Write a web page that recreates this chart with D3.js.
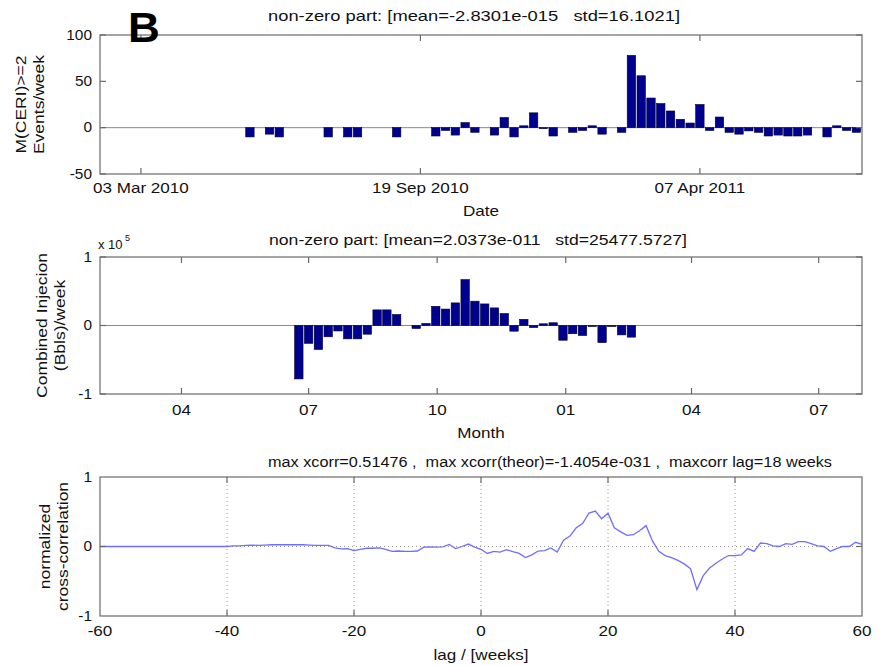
<!DOCTYPE html>
<html><head><meta charset="utf-8">
<script src="https://cdn.jsdelivr.net/npm/d3@7"></script>
<style>
html,body{margin:0;padding:0;background:#fff;}
svg text{font-family:"Liberation Sans",Arial,Helvetica,sans-serif;fill:#111;white-space:pre;}
</style></head>
<body>
<svg id="chart" width="888" height="666"></svg>
<script>
// ---------------- DATA ----------------
const topStart = "2010-05-20"; // first weekly bin of M(CERI)>=2 events
const topValues = [-10,0,-7,-10,0,0,0,0,-10,0,-10,-10,0,0,0,-10,0,0,0,-9,
  -3,-8,5.5,-5,0,-8,11,-10,2,16,-1,-9,0,-5,-3,2,-7,0,-5,78,
  56,32,26,18,9,5,25,-3,11.5,-5,-7,-3.5,-5,-9,-8,-9,-9,-8,0,-10,
  2,-3,-5];
const topTickDates = ["2010-03-03","2010-09-19","2011-04-07"];
const topYTicks = [-50,0,50,100];

const midStart = "2010-06-24"; // first weekly bin of combined injection
const midValues = [-78000,-26000,-35000,-16500,-8000,-19500,-19500,-12700,22800,22800,
  16000,0,-4400,3000,28000,24000,33000,67000,35500,31500,
  25700,17500,-8300,9000,-3000,2500,4000,-21500,-12000,-14600,
  -1500,-25000,-1000,-13700,-17000];
const midTickDates = ["2010-04-01","2010-07-01","2010-10-01","2011-01-01","2011-04-01","2011-07-01"];
const midYTicks = [-1,0,1]; // x 10^5

const lagStart = -60;
const xcorrValues = [
  0,0,0,0,0,0,0,0,0,0,0,0,0,0,0,0,0,0,0,0,0,           // -60..-40
  0.01,0.01,0.015,0.02,0.015,0.02,0.025,0.025,0.025,0.025, // -39..-30
  0.025,0.025,0.02,0.015,0.015,0.015,-0.02,-0.035,-0.03,-0.06, // -29..-20
  -0.04,-0.025,-0.025,-0.02,-0.04,-0.07,-0.065,-0.07,-0.07,-0.065, // -19..-10
  -0.01,-0.005,-0.01,-0.005,0.03,-0.03,0.0,0.035,-0.01,      // -9..-1
  -0.04,                                                    // 0
  -0.1,-0.07,-0.08,-0.045,-0.075,-0.1,-0.16,-0.12,-0.065,-0.06, // 1..10
  -0.02,-0.08,0.09,0.15,0.27,0.33,0.48,0.51,0.40,0.48,       // 11..20
  0.27,0.21,0.16,0.17,0.23,0.30,0.08,-0.07,-0.13,-0.16,      // 21..30
  -0.2,-0.25,-0.32,-0.62,-0.42,-0.31,-0.24,-0.18,-0.13,-0.13, // 31..40
  -0.12,-0.03,-0.07,0.05,0.04,0.01,0.0,0.04,0.03,0.07,       // 41..50
  0.07,0.04,0.01,0.0,-0.07,-0.03,0.0,0.0,0.06,0.03           // 51..60
];
const lagTicks = [-60,-40,-20,0,20,40,60];
const lagGrid = [-40,-20,0,20,40];
const xcorrYTicks = [-1,0,1];

const titles = [
  "non-zero part: [mean=-2.8301e-015   std=16.1021]",
  "non-zero part: [mean=2.0373e-011   std=25477.5727]",
  "max xcorr=0.51476 ,  max xcorr(theor)=-1.4054e-031 ,  maxcorr lag=18 weeks"
];

// ---------------- LAYOUT ----------------
const svg = d3.select("#chart");
const L = 100, R = 862;
const panels = [{t:35,b:174},{t:257,b:394},{t:477,b:616}];
const titleLayout = [{x:268,y:16,w:412},{x:269,y:240,w:418},{x:268,y:462,w:564}];
const BOX = "#6a6a6a", ZERO = "#8a8a8a", BAR = "#00008f";
const SX = 1.22; // horizontal text stretch of the original
const TFS = 14;

function txt(x, y, s, opt={}) {
  const g = svg.append("g").attr("transform", `translate(${x},${y})` + (opt.rot ? ` rotate(${opt.rot})` : "") + ` scale(${opt.sx||SX},1)`);
  const t = g.append("text").attr("text-anchor", opt.anchor||"middle")
    .attr("dominant-baseline","central")
    .style("font-size", (opt.fs||TFS)+"px");
  if (opt.weight) t.style("font-weight", opt.weight);
  t.text(s);
  return t;
}
function title(i) {
  const c = titleLayout[i];
  svg.append("text").attr("x", c.x).attr("y", c.y).attr("dominant-baseline","central")
    .attr("textLength", c.w).attr("lengthAdjust","spacingAndGlyphs")
    .style("font-size", TFS+"px").text(titles[i]);
}

const parse = d3.timeParse("%Y-%m-%d");
const xTime = d3.scaleTime()
  .domain([new Date(2010,1,1,17), new Date(2011,7,1,0)])
  .range([L, R]);
const weekPx = xTime(new Date(2010,5,8)) - xTime(new Date(2010,5,1));
const barW = weekPx * 0.86;

function box(p) {
  svg.append("rect").attr("x", L).attr("y", p.t).attr("width", R-L).attr("height", p.b-p.t)
    .attr("fill","none").attr("stroke", BOX).attr("stroke-width",1.2);
}
function xTicksInward(scale, vals, p) {
  vals.forEach(v => {
    const x = scale(v);
    svg.append("line").attr("x1",x).attr("x2",x).attr("y1",p.b).attr("y2",p.b-6).attr("stroke",BOX).attr("stroke-width",1.2);
    svg.append("line").attr("x1",x).attr("x2",x).attr("y1",p.t).attr("y2",p.t+6).attr("stroke",BOX).attr("stroke-width",1.2);
  });
}
function yTicksInward(scale, vals) {
  vals.forEach(v => {
    const y = scale(v);
    svg.append("line").attr("x1",L).attr("x2",L+6).attr("y1",y).attr("y2",y).attr("stroke",BOX).attr("stroke-width",1.2);
    svg.append("line").attr("x1",R).attr("x2",R-6).attr("y1",y).attr("y2",y).attr("stroke",BOX).attr("stroke-width",1.2);
  });
}

// ---------------- PANEL 1 ----------------
{
  const p = panels[0];
  const y = d3.scaleLinear().domain([-50,100]).range([p.b, p.t]);
  const s0 = parse(topStart);
  const data = topValues.map((v,i) => ({d: d3.timeDay.offset(s0, 7*i), v}));
  svg.append("line").attr("x1",L).attr("x2",R).attr("y1",y(0)).attr("y2",y(0)).attr("stroke",ZERO).attr("stroke-width",1);
  svg.append("g").selectAll("rect").data(data.filter(d=>d.v!==0)).join("rect")
    .attr("x", d => xTime(d.d) - barW/2).attr("width", barW)
    .attr("y", d => y(Math.max(0,d.v))).attr("height", d => Math.max(1, Math.abs(y(d.v)-y(0))))
    .attr("fill", BAR).attr("stroke","#000030").attr("stroke-width",0.6);
  box(p);
  const tdates = topTickDates.map(parse);
  xTicksInward(xTime, tdates, p);
  yTicksInward(y, topYTicks);
  const fmt = d3.timeFormat("%d %b %Y");
  tdates.forEach(d => txt(xTime(d), p.b+14, fmt(d)));
  topYTicks.forEach(v => txt(L-8, y(v), String(v), {anchor:"end", sx:1.1}));
  title(0);
  txt((L+R)/2, 211, "Date");
  txt(21, (p.t+p.b)/2, "M(CERI)>=2", {rot:-90, sx:1.25});
  txt(39, (p.t+p.b)/2, "Events/week", {rot:-90, sx:1.25});
  txt(128, 27, "B", {anchor:"start", fs:42, weight:"bold", sx:1.05}).style("fill","#000");
}

// ---------------- PANEL 2 ----------------
{
  const p = panels[1];
  const y = d3.scaleLinear().domain([-1e5,1e5]).range([p.b, p.t]);
  const s0 = parse(midStart);
  const data = midValues.map((v,i) => ({d: d3.timeDay.offset(s0, 7*i), v}));
  svg.append("line").attr("x1",L).attr("x2",R).attr("y1",y(0)).attr("y2",y(0)).attr("stroke",ZERO).attr("stroke-width",1);
  svg.append("g").selectAll("rect").data(data.filter(d=>d.v!==0)).join("rect")
    .attr("x", d => xTime(d.d) - barW/2).attr("width", barW)
    .attr("y", d => y(Math.max(0,d.v))).attr("height", d => Math.max(1, Math.abs(y(d.v)-y(0))))
    .attr("fill", BAR).attr("stroke","#000030").attr("stroke-width",0.6);
  box(p);
  const tdates = midTickDates.map(parse);
  xTicksInward(xTime, tdates, p);
  yTicksInward(y, midYTicks.map(v=>v*1e5));
  const fmt = d3.timeFormat("%m");
  tdates.forEach(d => txt(xTime(d), p.b+16, fmt(d)));
  midYTicks.forEach(v => txt(L-8, y(v*1e5), String(v), {anchor:"end", sx:1.1}));
  title(1);
  txt((L+R)/2, 433, "Month");
  txt(98, 244, "x 10", {anchor:"start", fs:13, sx:1.0});
  txt(125, 238, "5", {anchor:"start", fs:9, sx:1.0});
  txt(42, (p.t+p.b)/2, "Combined Injecion", {rot:-90, sx:1.25});
  txt(60, (p.t+p.b)/2, "(Bbls)/week", {rot:-90, sx:1.25});
}

// ---------------- PANEL 3 ----------------
{
  const p = panels[2];
  const x = d3.scaleLinear().domain([-60,60]).range([L, R]);
  const y = d3.scaleLinear().domain([-1,1]).range([p.b, p.t]);
  const data = xcorrValues.map((v,i) => ({lag: lagStart+i, v}));
  lagGrid.forEach(g => svg.append("line").attr("x1",x(g)).attr("x2",x(g)).attr("y1",p.t).attr("y2",p.b)
    .attr("stroke","#9a9a9a").attr("stroke-width",1).attr("stroke-dasharray","1,3"));
  svg.append("line").attr("x1",L).attr("x2",R).attr("y1",y(0)).attr("y2",y(0))
    .attr("stroke","#9a9a9a").attr("stroke-width",1).attr("stroke-dasharray","1,3");
  svg.append("path").datum(data)
    .attr("d", d3.line().x(d=>x(d.lag)).y(d=>y(d.v)))
    .attr("fill","none").attr("stroke","#6f6fff").attr("stroke-width",1.3);
  box(p);
  xTicksInward(x, lagTicks.slice(1,-1), p);
  yTicksInward(y, [0]);
  lagTicks.forEach(v => txt(x(v), p.b+15, String(v)));
  xcorrYTicks.forEach(v => txt(L-8, y(v), String(v), {anchor:"end", sx:1.1}));
  title(2);
  txt((L+R)/2, 655, "lag / [weeks]");
  txt(45, (p.t+p.b)/2, "normalized", {rot:-90, sx:1.25});
  txt(63, (p.t+p.b)/2, "cross-correlation", {rot:-90, sx:1.25});
}
</script>
</body></html>
